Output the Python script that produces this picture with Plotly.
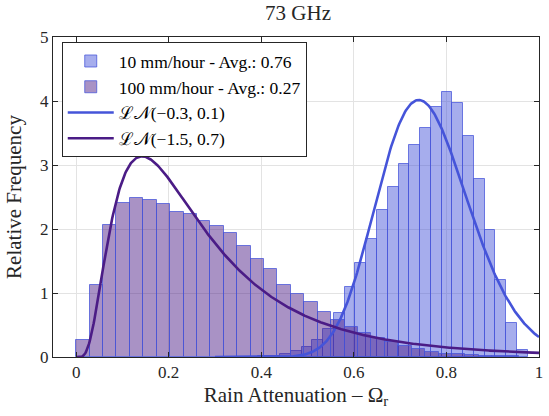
import numpy as np
import plotly.graph_objects as go

# ---- data ----
blue_bin_start = 0.3938
blue_bin_width = 0.02328
blue_heights = [0.01, 0.02, 0.05, 0.10, 0.16, 0.26, 0.44, 0.69, 1.10, 1.47, 1.85,
                2.30, 2.65, 3.02, 3.32, 3.58, 3.91, 4.14, 3.97, 3.46, 2.78, 1.98,
                1.21, 0.53, 0.11]

purple_bin_start = 0.0
purple_bin_width = 0.029
purple_heights = [0.26, 1.12, 2.07, 2.41, 2.48, 2.46, 2.39, 2.27, 2.23, 2.13, 2.05,
                  1.93, 1.73, 1.53, 1.37, 1.13, 0.99, 0.86, 0.71, 0.58, 0.47, 0.38,
                  0.29, 0.24, 0.17, 0.12, 0.08, 0.05, 0.04, 0.03, 0.02, 0.02, 0.01]

# fitted log-normal parameters (mu, sigma)
ln_blue = (-0.283, 0.133)
ln_purple = (-1.46, 0.70)
blue_curve_range = (0.3, 1.0)
purple_curve_range = (0.001, 1.0)

x_ticks = [0, 0.2, 0.4, 0.6, 0.8, 1]
x_tick_labels = ["0", "0.2", "0.4", "0.6", "0.8", "1"]
y_ticks = [0, 1, 2, 3, 4, 5]

names = ["10 mm/hour - Avg.: 0.76", "100 mm/hour - Avg.: 0.27",
         "ℒ𝒩(−0.3, 0.1)", "ℒ𝒩(−1.5, 0.7)"]


def lognpdf(x, mu, s):
    return np.exp(-(np.log(x) - mu) ** 2 / (2 * s * s)) / (x * s * np.sqrt(2 * np.pi))


blue_x = [blue_bin_start + (i + 0.5) * blue_bin_width for i in range(len(blue_heights))]
purple_x = [purple_bin_start + (i + 0.5) * purple_bin_width for i in range(len(purple_heights))]

xb = np.linspace(*blue_curve_range, 400)
xp = np.linspace(*purple_curve_range, 600)

FONT = "Liberation Serif"

fig = go.Figure()
fig.add_trace(go.Bar(
    x=blue_x, y=blue_heights, width=blue_bin_width, name=names[0],
    marker=dict(color="rgba(69,84,217,0.48)", line=dict(color="rgba(69,84,217,0.75)", width=1)),
))
fig.add_trace(go.Bar(
    x=purple_x, y=purple_heights, width=purple_bin_width, name=names[1],
    marker=dict(color="rgba(75,28,134,0.48)", line=dict(color="rgba(69,84,217,0.75)", width=1)),
))
fig.add_trace(go.Scatter(
    x=xb, y=lognpdf(xb, *ln_blue), mode="lines", name=names[2],
    line=dict(color="rgb(69,84,217)", width=2.6),
))
fig.add_trace(go.Scatter(
    x=xp, y=lognpdf(xp, *ln_purple), mode="lines", name=names[3],
    line=dict(color="rgb(75,28,134)", width=2.6),
))

axis_common = dict(
    showline=True, linecolor="#262626", linewidth=1, mirror="ticks",
    ticks="inside", ticklen=5, tickcolor="#262626",
    showgrid=True, gridcolor="#e3e3e3", gridwidth=1, zeroline=False,
    tickfont=dict(family=FONT, size=17, color="#262626"),
)

fig.update_layout(
    width=549, height=416,
    margin=dict(l=53, r=6, t=37, b=59),
    paper_bgcolor="white", plot_bgcolor="white",
    barmode="overlay", bargap=0,
    title=dict(text="73 GHz", x=0.5429, xanchor="center", y=0.970, yanchor="middle",
               font=dict(family=FONT, size=21, color="#262626")),
    xaxis=dict(range=[-0.05, 1.0], tickvals=x_ticks, ticktext=x_tick_labels,
               title=dict(text="Rain Attenuation – Ω<sub>r</sub>", standoff=5,
                          font=dict(family=FONT, size=21, color="#262626")),
               **axis_common),
    yaxis=dict(range=[0, 5], tickvals=y_ticks,
               title=dict(text="Relative Frequency", standoff=12,
                          font=dict(family=FONT, size=21, color="#262626")),
               **axis_common),
    legend=dict(x=0.018, y=0.984, xanchor="left", yanchor="top",
                bgcolor="white", bordercolor="#262626", borderwidth=1,
                font=dict(family=FONT, size=17.5, color="black"),
                tracegroupgap=0, itemwidth=46),
    showlegend=True,
)

fig.write_html("out.html")
